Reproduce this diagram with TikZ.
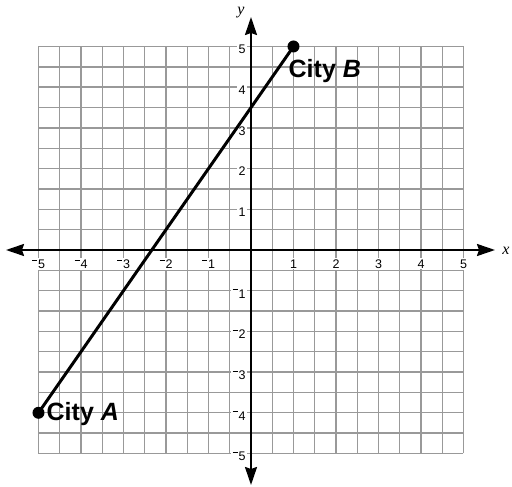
\documentclass[tikz,border=0pt]{standalone}
\usepackage{fontspec}
\setmainfont{Liberation Sans}
\newfontfamily\serifit{Liberation Serif}
\usetikzlibrary{arrows.meta}
\newcommand\neglab[1]{\raisebox{0.62em}{\rule{0.42em}{0.08em}}\kern0.06em#1}
\tikzset{
  gridline/.style={draw=black!40, line width=1.4pt},
  axisline/.style={line width=2pt, {Stealth[length=18pt,width=12pt,inset=2pt]}-{Stealth[length=18pt,width=12pt,inset=2pt]}},
  ticklab/.style={fill=white, inner sep=1.2pt, font=\fontsize{12.5pt}{13pt}\selectfont},
  citydot/.style={circle, fill=black, inner sep=0pt, minimum size=12pt},
  citylab/.style={inner sep=0pt, font=\fontsize{25pt}{27pt}\selectfont\bfseries},
  axlab/.style={inner sep=0pt, font=\fontsize{16pt}{18pt}\selectfont\serifit\itshape},
  segment/.style={line width=3pt}
}
\begin{document}
\begin{tikzpicture}[x=42.5pt, y=40.7pt]
\useasboundingbox (-251pt,250pt) rectangle (261pt,-237pt);
% grid
\draw[gridline] (-5,-5) grid[xstep=0.5, ystep=0.5] (5,5);
% tick labels (white boxes interrupt the grid)
\foreach \i in {1,...,5} {
  \node[ticklab] (xp\i) at ([yshift=-14pt]\i,0) {\i};
  \node[ticklab] (xn\i) at ([yshift=-14pt]-\i,0) {\neglab{\i}};
  \node[ticklab, anchor=east] (yp\i) at ([xshift=-4pt, yshift=-3pt]0,\i) {\i};
  \node[ticklab, anchor=east] (yn\i) at ([xshift=-4pt, yshift=-3pt]0,-\i) {\neglab{\i}};
}
% axes
\coordinate (xl) at (-245pt,0);
\coordinate (xr) at (244pt,0);
\coordinate (yt) at (0,233pt);
\coordinate (yb) at (0,-235pt);
\draw[axisline] (xl) -- (xr);
\draw[axisline] (yb) -- (yt);
\node[axlab] (xlab) at (255pt,-1pt) {x};
\node[axlab] (ylab) at (-10pt,237pt) {y};
% cities
\node[citydot] (A) at (-5,-4) {};
\node[citydot] (B) at (1,5) {};
\draw[segment] (A.center) -- (B.center);
\node[citylab, anchor=west] (Alab) at ([xshift=8pt, yshift=-1pt]A.center) {City \textit{A}};
\node[citylab, anchor=west] (Blab) at ([xshift=-5pt, yshift=-25pt]B.center) {City \textit{B}};
\end{tikzpicture}
\end{document}
